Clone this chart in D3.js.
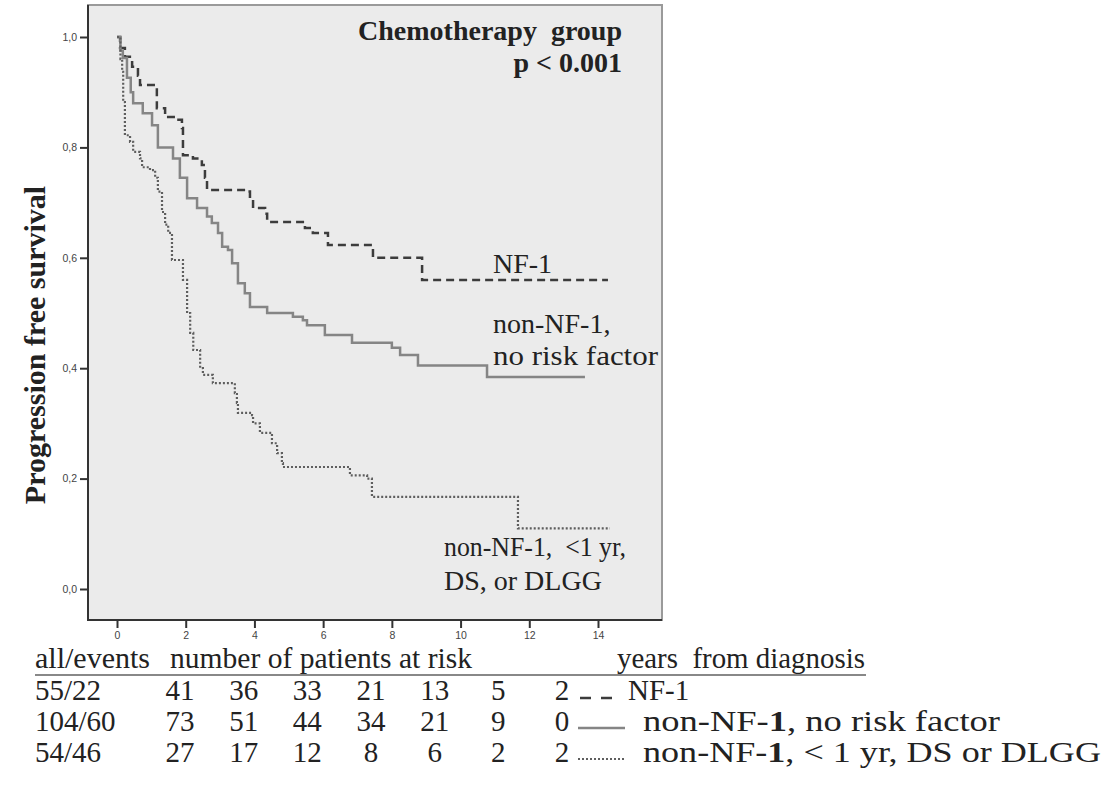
<html>
<head>
<meta charset="utf-8">
<title>Progression free survival</title>
<style>
  body { margin: 0; background: #fff; }
  text { font-family: "Liberation Serif", "Times New Roman", serif; fill: #222; }
  .tick text { font-family: "Liberation Sans", Arial, sans-serif; font-size: 10.5px; fill: #444; }
</style>
</head>
<body>
<script src="https://cdn.jsdelivr.net/npm/d3@7"></script>
<script>

// survival steps [years, survival after the step]
var nf1 = [[0,1],[0.09,0.98],[0.23,0.964],[0.44,0.946],[0.61,0.93],[0.67,0.913],[1.16,0.871],[1.4,0.855],
  [1.69,0.85],[1.89,0.835],[1.92,0.786],[2.21,0.78],[2.47,0.768],[2.56,0.745],[2.62,0.723],[3.73,0.72],
  [3.87,0.705],[3.96,0.69],[4.31,0.68],[4.37,0.665],[5.47,0.654],[5.7,0.645],[6.14,0.623],[7.45,0.6],
  [8.88,0.56],[14.29,0.56]];
var noRisk = [[0,1],[0.1,0.975],[0.17,0.962],[0.29,0.926],[0.4,0.9],[0.47,0.88],[0.75,0.862],[1.02,0.84],
  [1.19,0.8],[1.63,0.78],[1.83,0.745],[2.04,0.708],[2.33,0.69],[2.62,0.675],[2.76,0.663],[2.94,0.645],
  [3.06,0.62],[3.23,0.614],[3.35,0.59],[3.52,0.554],[3.72,0.536],[3.87,0.511],[4.37,0.5],[5.12,0.493],
  [5.41,0.487],[5.53,0.478],[6.05,0.46],[6.84,0.446],[8.0,0.437],[8.24,0.424],[8.76,0.405],[10.77,0.384],
  [13.62,0.384]];
var risk = [[0,1],[0.1,0.96],[0.15,0.937],[0.18,0.882],[0.23,0.822],[0.38,0.81],[0.47,0.792],[0.67,0.78],
  [0.73,0.764],[0.96,0.759],[1.11,0.745],[1.19,0.72],[1.31,0.683],[1.4,0.66],[1.49,0.645],[1.6,0.596],
  [1.92,0.56],[2.04,0.5],[2.13,0.464],[2.22,0.433],[2.42,0.4],[2.5,0.388],[2.79,0.373],[3.43,0.355],
  [3.49,0.337],[3.52,0.319],[3.93,0.315],[3.96,0.3],[4.16,0.283],[4.51,0.264],[4.66,0.246],[4.8,0.228],
  [4.83,0.221],[6.78,0.206],[7.28,0.2],[7.42,0.167],[11.67,0.11],[14.35,0.11]];

var xTicks = [0,2,4,6,8,10,12,14];
var yTicks = [0,0.2,0.4,0.6,0.8,1.0];
var riskTimes = [2,4,6,8,10,12,14];
var allEvents = ["55/22","104/60","54/46"];
var atRisk = [[41,36,33,21,13,5,2],[73,51,44,34,21,9,0],[27,17,12,8,6,2,2]];

var svg = d3.select("body").append("svg")
  .attr("width",1109)
  .attr("height",785);

var x = d3.scaleLinear().domain([0,14]).range([117,598]);
var y = d3.scaleLinear().domain([0,1]).range([589,37]);

// plot frame
svg.append("rect").attr("x",88).attr("y",5).attr("width",574).attr("height",615)
  .attr("fill","#ebebeb").attr("stroke","#9a9a9a").attr("stroke-width",2);
svg.append("path").attr("d","M88,5V620H662").attr("fill","none").attr("stroke","#333").attr("stroke-width",2);

// axes
svg.append("g").attr("transform","translate(0,620)")
  .call(d3.axisBottom(x).tickValues(xTicks).tickSize(8).tickPadding(4))
  .call(function(g){ g.select(".domain").remove(); g.selectAll("line").attr("stroke","#333").attr("stroke-width",2); });
svg.append("g").attr("transform","translate(88,0)")
  .call(d3.axisLeft(y).tickValues(yTicks).tickSize(8).tickPadding(3)
    .tickFormat(function(d){ return d3.format(".1f")(d).replace(".",","); }))
  .call(function(g){ g.select(".domain").remove(); g.selectAll("line").attr("stroke","#333").attr("stroke-width",2); });

svg.append("text")
  .attr("transform","translate(45,345) rotate(-90)")
  .attr("text-anchor","middle")
  .attr("font-size",30).attr("font-weight","bold")
  .text("Progression free survival");

// curves
var line = d3.line()
  .x(function(d){ return x(d[0]); })
  .y(function(d){ return y(d[1]); })
  .curve(d3.curveStepAfter);

svg.append("path").attr("d",line(nf1)).attr("fill","none")
  .attr("stroke","#3c3c3c").attr("stroke-width",2.5).attr("stroke-dasharray","8,5");
svg.append("path").attr("d",line(noRisk)).attr("fill","none")
  .attr("stroke","#858585").attr("stroke-width",2.5);
svg.append("path").attr("d",line(risk)).attr("fill","none")
  .attr("stroke","#5e5e5e").attr("stroke-width",2.2).attr("stroke-dasharray","2,2");

// helper for stretched text
function stretch(sel, len){ return sel.attr("textLength",len).attr("lengthAdjust","spacingAndGlyphs"); }

// titles and curve labels
svg.append("text").attr("x",622).attr("y",40).attr("text-anchor","end")
  .attr("font-size",28).attr("font-weight","bold").attr("xml:space","preserve").text("Chemotherapy  group");
svg.append("text").attr("x",622).attr("y",72).attr("text-anchor","end")
  .attr("font-size",28).attr("font-weight","bold").text("p < 0.001");

svg.append("text").attr("x",493).attr("y",273).attr("font-size",28).text("NF-1");
svg.append("text").attr("x",493).attr("y",333).attr("font-size",28).text("non-NF-1,");
stretch(svg.append("text").attr("x",493).attr("y",365).attr("font-size",28), 165).text("no risk factor");
stretch(svg.append("text").attr("x",444).attr("y",556).attr("font-size",28), 182)
  .attr("xml:space","preserve").text("non-NF-1,  <1 yr,");
svg.append("text").attr("x",444).attr("y",590).attr("font-size",28).text("DS, or DLGG");

// number at risk table
var col = d3.scalePoint().domain(riskTimes).range([180,562]);
var rowY = [700,731,762];

stretch(svg.append("text").attr("x",35).attr("y",668).attr("font-size",29), 115).text("all/events");
stretch(svg.append("text").attr("x",170).attr("y",668).attr("font-size",29), 302).text("number of patients at risk");
stretch(svg.append("text").attr("x",617).attr("y",668).attr("font-size",29), 248)
  .attr("xml:space","preserve").text("years  from diagnosis");
svg.append("line").attr("x1",35).attr("x2",866).attr("y1",675).attr("y2",675)
  .attr("stroke","#888").attr("stroke-width",2);

allEvents.forEach(function(a,i){
  svg.append("text").attr("x",35).attr("y",rowY[i]).attr("font-size",29).text(a);
  svg.selectAll(null).data(atRisk[i]).enter().append("text")
    .attr("x",function(d,j){ return col(riskTimes[j]); })
    .attr("y",rowY[i]).attr("text-anchor","middle").attr("font-size",29)
    .text(function(d){ return d; });
});

// legend rows
var legendStyle = [
  {x1:580, x2:612, dash:"11,10", color:"#3c3c3c", w:2.5, y:-2},
  {x1:578, x2:625, dash:null, color:"#858585", w:2.5, y:-3},
  {x1:578, x2:625, dash:"2,2", color:"#5e5e5e", w:2, y:-3}
];
legendStyle.forEach(function(s,i){
  svg.append("line").attr("x1",s.x1).attr("x2",s.x2)
    .attr("y1",rowY[i]+s.y).attr("y2",rowY[i]+s.y)
    .attr("stroke",s.color).attr("stroke-width",s.w).attr("stroke-dasharray",s.dash);
});
svg.append("text").attr("x",628).attr("y",rowY[0]).attr("font-size",29).text("NF-1");
var t2 = stretch(svg.append("text").attr("x",643).attr("y",rowY[1]).attr("font-size",29), 357);
t2.append("tspan").text("non-NF-");
t2.append("tspan").attr("font-weight","bold").text("1");
t2.append("tspan").text(", no risk factor");
var t3 = stretch(svg.append("text").attr("x",643).attr("y",rowY[2]).attr("font-size",29), 458);
t3.append("tspan").text("non-NF-");
t3.append("tspan").attr("font-weight","bold").text("1");
t3.append("tspan").text(", < 1 yr, DS or DLGG");

</script>
</body>
</html>
